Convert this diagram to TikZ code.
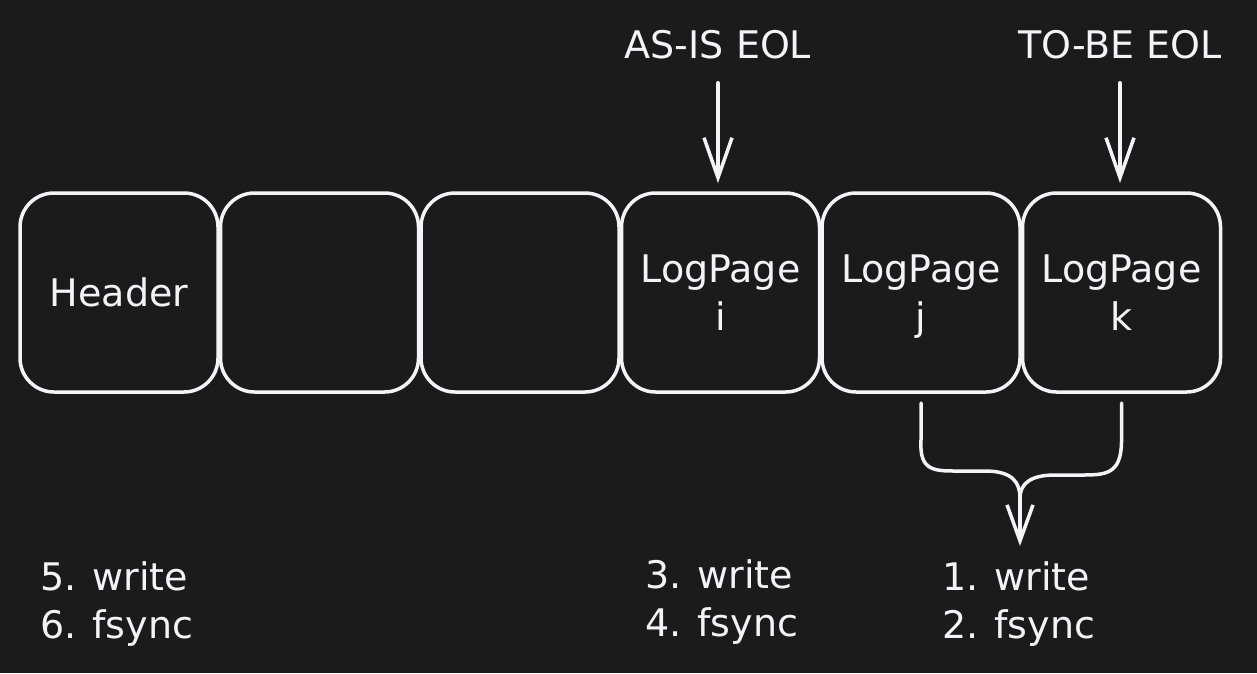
\documentclass[tikz,border=0pt]{standalone}
\usepackage{fontspec}
\setmainfont{DejaVu Sans}
\usetikzlibrary{arrows.meta,positioning}
\definecolor{canvas}{HTML}{1B1B1B}
\definecolor{ink}{HTML}{F4F4F6}
\newcommand{\hand}{\fontsize{38}{48}\selectfont}
\tikzset{
  page/.style={draw=ink, line width=3.5pt, rounded corners=34pt, minimum width=198pt,
    minimum height=199pt, inner sep=0pt, outer sep=0pt, text=ink, align=center, font=\hand},
  tag/.style={text=ink, inner sep=0pt, font=\hand},
  flow/.style={draw=ink, line width=3.5pt, line cap=round, line join=round,
    -{Straight Barb[length=40pt,width=28pt,line width=3.5pt]}},
  wire/.style={draw=ink, line width=3.5pt, line cap=round, line join=round}
}
\begin{document}
\begin{tikzpicture}[x=1pt,y=-1pt]
	\fill[canvas] (0,0) rectangle (1257,673);
	\useasboundingbox (0,0) rectangle (1257,673);
	% the log file, page by page
	\node[page] (hdr) at (119,292.5) {Header};
	\node[page, right=2.5pt of hdr] (e1) {};
	\node[page, right=2.5pt of e1] (e2) {};
	\node[page, right=2.5pt of e2] (pi) {LogPage\\i};
	\node[page, right=2.5pt of pi] (pj) {LogPage\\\smash{j}};
	\node[page, right=2.5pt of pj] (pk) {LogPage\\k};
	% end-of-log markers
	\node[tag, anchor=base] (asis) at (718,58) {AS-IS EOL};
	\node[tag, anchor=base] (tobe) at (1120,58) {TO-BE EOL};
	\draw[flow, shorten <=24pt, shorten >=10pt] (asis.south) -- (asis.south |- pi.north);
	\draw[flow, shorten <=24pt, shorten >=10pt] (tobe.south) -- (tobe.south |- pk.north);
	% new pages merge into one flush
	\coordinate (jfoot) at ([yshift=-11pt]pj.south);
	\coordinate (kfoot) at ([yshift=-11pt]pk.south);
	\coordinate (join) at (1020,498);
	\coordinate (sink) at (1020,546);
	\draw[wire] (jfoot) -- (jfoot |- 0,440) .. controls (919,472) and (935,471) .. (960,471)
		-- (985,471) .. controls (1012,471) and (1020,482) .. (join);
	\draw[wire] (kfoot) -- (kfoot |- 0,442) .. controls (1121,475) and (1105,475) .. (1080,475)
		-- (1055,475) .. controls (1030,475) and (1020,484) .. (join);
	\draw[flow, -{Straight Barb[length=36pt,width=26pt,line width=3.5pt]}] (join) -- (sink);
	% order of the steps
	\node[tag, anchor=base west] (w5) at (40,590) {5. write};
	\node[tag, anchor=base west] (s6) at (40,638) {6. fsync};
	\node[tag, anchor=base west] (w3) at (645,588) {3. write};
	\node[tag, anchor=base west] (s4) at (645,636) {4. fsync};
	\node[tag, anchor=base west] (w1) at (942,590) {1. write};
	\node[tag, anchor=base west] (s2) at (942,638) {2. fsync};
\end{tikzpicture}
\end{document}
